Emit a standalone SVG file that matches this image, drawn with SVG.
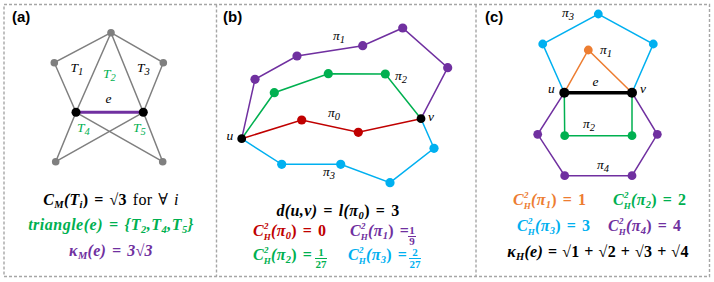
<svg xmlns="http://www.w3.org/2000/svg" width="714" height="282" viewBox="0 0 714 282">
<style>
.frame{fill:none;stroke:#A6A6A6;stroke-width:1.4;stroke-dasharray:3 2}
.ptl{font-family:"Liberation Sans",Arial,sans-serif;font-weight:bold;font-size:15px;fill:#000}
.lbl{font-family:"Liberation Serif","DejaVu Serif",serif;font-style:italic;font-size:13.5px;fill:#000}
.m{font-family:"Liberation Serif","DejaVu Serif",serif;font-style:italic;font-weight:bold;font-size:16px;letter-spacing:0.3px;word-spacing:1.5px}
.up{font-style:normal}
.s{font-size:10.5px}
.t{font-size:9px}
.fr{font-family:"Liberation Serif","DejaVu Serif",serif;font-weight:bold;font-size:11px;text-anchor:middle}
.gray{stroke:#7F7F7F;stroke-width:1.5;fill:none}
.pu{stroke:#7030A0;stroke-width:1.5;fill:none}
.gr{stroke:#00B050;stroke-width:1.5;fill:none}
.rd{stroke:#C00000;stroke-width:1.5;fill:none}
.bl{stroke:#00B0F0;stroke-width:1.5;fill:none}
.or{stroke:#ED7D31;stroke-width:1.5;fill:none}
.ngray{fill:#7F7F7F}.npu{fill:#7030A0}.ngr{fill:#00B050}.nrd{fill:#C00000}.nbl{fill:#00B0F0}.nor{fill:#ED7D31}.nk{fill:#000}
.cpu{fill:#7030A0}.cgr{fill:#00B050}.crd{fill:#C00000}.cbl{fill:#00B0F0}.cor{fill:#ED7D31}.ck{fill:#000}
</style>
<rect width="714" height="282" fill="#fff"/>
<g id="frames">
<rect class="frame" x="4" y="4.5" width="705.5" height="272"/>
<line class="frame" x1="216.5" y1="4.5" x2="216.5" y2="276.5"/>
<line class="frame" x1="476" y1="4.5" x2="476" y2="276.5"/>
</g>
<text class="ptl" x="12" y="22">(a)</text>
<text class="ptl" x="223" y="22">(b)</text>
<text class="ptl" x="485" y="22">(c)</text>

<!-- Panel (a) -->
<g id="connectors-a">
<path class="gray" d="M111,32.7 L54.3,62.7 L76,112.3 M111,32.7 L76,112.3 M111,32.7 L143.3,112.3 M111,32.7 L163.3,62.7 L143.3,112.3 M76,112.3 L55.7,161.7 M143.3,112.3 L162.7,161.7 M76,112.3 L162.7,161.7 M143.3,112.3 L55.7,161.7"/>
<line x1="76" y1="112.3" x2="143.3" y2="112.3" stroke="#7030A0" stroke-width="3"/>
</g>
<g id="a-top"><circle class="ngray" cx="111" cy="32.7" r="3.8"/></g>
<g id="a-left"><circle class="ngray" cx="54.3" cy="62.7" r="3.8"/></g>
<g id="a-right"><circle class="ngray" cx="163.3" cy="62.7" r="3.8"/></g>
<g id="a-u"><circle class="nk" cx="76" cy="112.3" r="4.5"/></g>
<g id="a-v"><circle class="nk" cx="143.3" cy="112.3" r="4.5"/></g>
<g id="a-bl"><circle class="ngray" cx="55.7" cy="161.7" r="3.8"/></g>
<g id="a-br"><circle class="ngray" cx="162.7" cy="161.7" r="3.8"/></g>
<text class="lbl" x="70.5" y="72">T<tspan class="s" dy="3">1</tspan></text>
<text class="lbl" x="103" y="78" style="fill:#00B050">T<tspan class="s" dy="3">2</tspan></text>
<text class="lbl" x="137" y="72">T<tspan class="s" dy="3">3</tspan></text>
<text class="lbl" x="105.5" y="103">e</text>
<text class="lbl" x="77" y="132" style="fill:#00B050">T<tspan class="s" dy="3">4</tspan></text>
<text class="lbl" x="133" y="132" style="fill:#00B050">T<tspan class="s" dy="3">5</tspan></text>

<text class="m ck" x="111" y="205" text-anchor="middle">C<tspan class="s" dy="3">M</tspan><tspan dy="-3">(T</tspan><tspan class="s" dy="3">i</tspan><tspan dy="-3" class="up">) = √3</tspan><tspan dx="6" style="font-weight:normal;font-style:normal">for ∀ </tspan><tspan style="font-weight:normal">i</tspan></text>
<text class="m cgr" x="111" y="230" text-anchor="middle" style="letter-spacing:0.5px">triangle(e) = {T<tspan class="s" dy="3">2</tspan><tspan dy="-3">,T</tspan><tspan class="s" dy="3">4</tspan><tspan dy="-3">,T</tspan><tspan class="s" dy="3">5</tspan><tspan dy="-3">}</tspan></text>
<text class="m cpu" x="111" y="256" text-anchor="middle">κ<tspan class="s" dy="3">M</tspan><tspan dy="-3">(e) = 3√3</tspan></text>

<!-- Panel (b) -->
<g id="connectors-b">
<polyline class="pu" points="241.7,138.7 255,79.3 297,56 362.7,45.7 402.7,28 447.7,67.7 421,118.7"/>
<polyline class="gr" points="241.7,138.7 274.3,92.7 328.3,73.7 385.3,74 421,118.7"/>
<polyline class="rd" points="241.7,138.7 301.7,120 358.3,132.3 421,118.7"/>
<polyline class="bl" points="241.7,138.7 281.7,164.3 340.7,164.3 390,182.7 434,148.3 421,118.7"/>
</g>
<g id="b-p1"><circle class="npu" cx="255" cy="79.3" r="4.6"/></g>
<g id="b-p2"><circle class="npu" cx="297" cy="56" r="4.6"/></g>
<g id="b-p3"><circle class="npu" cx="362.7" cy="45.7" r="4.6"/></g>
<g id="b-p4"><circle class="npu" cx="402.7" cy="28" r="4.6"/></g>
<g id="b-p5"><circle class="npu" cx="447.7" cy="67.7" r="4.6"/></g>
<g id="b-g1"><circle class="ngr" cx="274.3" cy="92.7" r="4.6"/></g>
<g id="b-g2"><circle class="ngr" cx="328.3" cy="73.7" r="4.6"/></g>
<g id="b-g3"><circle class="ngr" cx="385.3" cy="74" r="4.6"/></g>
<g id="b-r1"><circle class="nrd" cx="301.7" cy="120" r="4.6"/></g>
<g id="b-r2"><circle class="nrd" cx="358.3" cy="132.3" r="4.6"/></g>
<g id="b-b1"><circle class="nbl" cx="281.7" cy="164.3" r="4.6"/></g>
<g id="b-b2"><circle class="nbl" cx="340.7" cy="164.3" r="4.6"/></g>
<g id="b-b3"><circle class="nbl" cx="390" cy="182.7" r="4.6"/></g>
<g id="b-b4"><circle class="nbl" cx="434" cy="148.3" r="4.6"/></g>
<g id="b-u"><circle class="nk" cx="241.7" cy="138.7" r="4.4"/></g>
<g id="b-v"><circle class="nk" cx="421" cy="118.7" r="4.4"/></g>
<text class="lbl" x="333" y="40">π<tspan class="s" dy="3">1</tspan></text>
<text class="lbl" x="395" y="80">π<tspan class="s" dy="3">2</tspan></text>
<text class="lbl" x="328" y="117">π<tspan class="s" dy="3">0</tspan></text>
<text class="lbl" x="323" y="176">π<tspan class="s" dy="3">3</tspan></text>
<text class="lbl" x="226.5" y="140">u</text>
<text class="lbl" x="428" y="121">v</text>

<text class="m ck" x="338" y="216" text-anchor="middle" style="letter-spacing:0.4px;word-spacing:1.5px">d(u,v) = l(π<tspan class="s" dy="3">0</tspan><tspan dy="-3" class="up">) = 3</tspan></text>
<text class="m crd" x="253" y="236">C<tspan class="t" dy="-7">2</tspan><tspan class="t" dx="-5" dy="11">H</tspan><tspan dy="-4">(π</tspan><tspan class="s" dy="3">0</tspan><tspan dy="-3" class="up">) = 0</tspan></text>
<text class="m cpu" x="350" y="236">C<tspan class="t" dy="-7">2</tspan><tspan class="t" dx="-5" dy="11">H</tspan><tspan dy="-4">(π</tspan><tspan class="s" dy="3">1</tspan><tspan dy="-3" class="up">) =</tspan></text>
<text class="fr cpu" x="412" y="234">1</text>
<line x1="408" y1="236.5" x2="416" y2="236.5" stroke="#7030A0" stroke-width="1"/>
<text class="fr cpu" x="412" y="245">9</text>
<text class="m cgr" x="253" y="260">C<tspan class="t" dy="-7">2</tspan><tspan class="t" dx="-5" dy="11">H</tspan><tspan dy="-4">(π</tspan><tspan class="s" dy="3">2</tspan><tspan dy="-3" class="up">) =</tspan></text>
<text class="fr cgr" x="321" y="256">1</text>
<line x1="315" y1="258.5" x2="327" y2="258.5" stroke="#00B050" stroke-width="1"/>
<text class="fr cgr" x="321" y="268">27</text>
<text class="m cbl" x="348" y="260">C<tspan class="t" dy="-7">2</tspan><tspan class="t" dx="-5" dy="11">H</tspan><tspan dy="-4">(π</tspan><tspan class="s" dy="3">3</tspan><tspan dy="-3" class="up">) =</tspan></text>
<text class="fr cbl" x="415" y="256">2</text>
<line x1="409" y1="258.5" x2="421" y2="258.5" stroke="#00B0F0" stroke-width="1"/>
<text class="fr cbl" x="415" y="268">27</text>

<!-- Panel (c) -->
<g id="connectors-c">
<polyline class="bl" points="564.3,92.7 542.7,44 598.3,14 653.3,44 632,92.7"/>
<polyline class="or" points="564.3,92.7 588.3,50 632,92.7"/>
<polyline class="gr" points="564.3,92.7 564.7,135.7 632,135.7 632,92.7"/>
<polyline class="pu" points="564.3,92.7 537.7,134.3 564.7,175.7 632,175.7 657.3,134.3 632,92.7"/>
<line x1="564.3" y1="92.7" x2="632" y2="92.7" stroke="#000" stroke-width="3.5"/>
</g>
<g id="c-b1"><circle class="nbl" cx="542.7" cy="44" r="4.4"/></g>
<g id="c-b2"><circle class="nbl" cx="598.3" cy="14" r="4.4"/></g>
<g id="c-b3"><circle class="nbl" cx="653.3" cy="44" r="4.4"/></g>
<g id="c-o1"><circle class="nor" cx="588.3" cy="50" r="4.4"/></g>
<g id="c-g1"><circle class="ngr" cx="564.7" cy="135.7" r="4.4"/></g>
<g id="c-g2"><circle class="ngr" cx="632" cy="135.7" r="4.4"/></g>
<g id="c-p1"><circle class="npu" cx="537.7" cy="134.3" r="4.4"/></g>
<g id="c-p2"><circle class="npu" cx="564.7" cy="175.7" r="4.4"/></g>
<g id="c-p3"><circle class="npu" cx="632" cy="175.7" r="4.4"/></g>
<g id="c-p4"><circle class="npu" cx="657.3" cy="134.3" r="4.4"/></g>
<g id="c-u"><circle class="nk" cx="564.3" cy="92.7" r="5"/></g>
<g id="c-v"><circle class="nk" cx="632" cy="92.7" r="5"/></g>
<text class="lbl" x="562" y="17">π<tspan class="s" dy="3">3</tspan></text>
<text class="lbl" x="600" y="54">π<tspan class="s" dy="3">1</tspan></text>
<text class="lbl" x="592.5" y="86">e</text>
<text class="lbl" x="548" y="93">u</text>
<text class="lbl" x="640" y="93">v</text>
<text class="lbl" x="583" y="128">π<tspan class="s" dy="3">2</tspan></text>
<text class="lbl" x="597" y="169">π<tspan class="s" dy="3">4</tspan></text>

<text class="m cor" x="513" y="205">C<tspan class="t" dy="-7">2</tspan><tspan class="t" dx="-5" dy="11">H</tspan><tspan dy="-4">(π</tspan><tspan class="s" dy="3">1</tspan><tspan dy="-3" class="up">) = 1</tspan></text>
<text class="m cgr" x="613" y="205">C<tspan class="t" dy="-7">2</tspan><tspan class="t" dx="-5" dy="11">H</tspan><tspan dy="-4">(π</tspan><tspan class="s" dy="3">2</tspan><tspan dy="-3" class="up">) = 2</tspan></text>
<text class="m cbl" x="517" y="231">C<tspan class="t" dy="-7">2</tspan><tspan class="t" dx="-5" dy="11">H</tspan><tspan dy="-4">(π</tspan><tspan class="s" dy="3">3</tspan><tspan dy="-3" class="up">) = 3</tspan></text>
<text class="m cpu" x="608" y="231">C<tspan class="t" dy="-7">2</tspan><tspan class="t" dx="-5" dy="11">H</tspan><tspan dy="-4">(π</tspan><tspan class="s" dy="3">4</tspan><tspan dy="-3" class="up">) = 4</tspan></text>
<text class="m ck" x="598" y="257" text-anchor="middle" style="word-spacing:0.5px">κ<tspan class="s" dy="3">H</tspan><tspan dy="-3">(e)</tspan><tspan class="up"> = √1 + √2 + √3 + √4</tspan></text>
</svg>
